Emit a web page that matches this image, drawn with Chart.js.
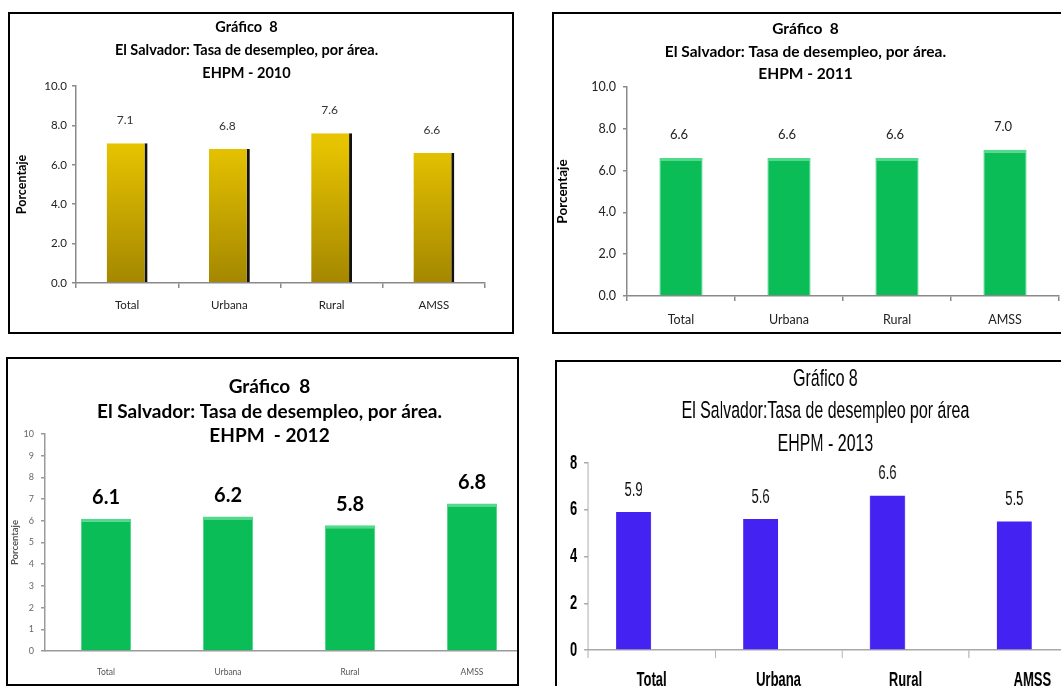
<!DOCTYPE html>
<html>
<head>
<meta charset="utf-8">
<script src="https://cdn.jsdelivr.net/npm/chart.js@4"></script>
<style>
  html, body { margin:0; padding:0; background:#fff; width:1061px; height:686px; overflow:hidden; }
  .wrap { position:absolute; overflow:hidden; background:#fff; }
  .wrap canvas { position:absolute; left:0; top:0; }
  .frame { position:absolute; box-sizing:border-box; border:2px solid #000; pointer-events:none; }
</style>
</head>
<body>
<div class="wrap" style="left:8px;top:12px;width:505px;height:321px;"><canvas id="c1" width="505" height="321"></canvas></div>
<div class="frame" style="left:8px;top:12px;width:506px;height:322px;"></div>

<div class="wrap" style="left:552px;top:13px;width:520px;height:320px;"><canvas id="c2" width="540" height="320"></canvas></div>
<div class="frame" style="left:552px;top:12px;width:530px;height:322px;"></div>

<div class="wrap" style="left:6px;top:357px;width:512px;height:328px;"><canvas id="c3" width="540" height="328"></canvas></div>
<div class="frame" style="left:6px;top:357px;width:513px;height:329px;"></div>

<div class="wrap" style="left:555px;top:361px;width:506px;height:325px;"><canvas id="c4" width="862" height="345" style="transform:scaleX(0.65);transform-origin:0 0;"></canvas></div>
<div class="frame" style="left:555px;top:360px;width:530px;height:340px;"></div>

<script>
// ---------- DATA ----------
const categories = ['Total', 'Urbana', 'Rural', 'AMSS'];
const values2010 = [7.1, 6.8, 7.6, 6.6];
const values2011 = [6.6, 6.6, 6.6, 7.0];
const values2012 = [6.1, 6.2, 5.8, 6.8];
const values2013 = [5.9, 5.6, 6.6, 5.5];

const title2010 = ['Gráfico  8', 'El Salvador: Tasa de desempleo, por área.', 'EHPM - 2010'];
const title2011 = ['Gráfico  8', 'El Salvador: Tasa de desempleo, por área.', 'EHPM - 2011'];
const title2012 = ['Gráfico  8', 'El Salvador: Tasa de desempleo, por área.', 'EHPM  - 2012'];
const title2013 = ['Gráfico 8', 'El Salvador:Tasa de desempleo por área', 'EHPM - 2013'];

const yAxisTitle = 'Porcentaje';
const yMax10 = 10;
const yMax8 = 8;

// ---------- helpers ----------
const valueLabels = {
  id: 'valueLabels',
  afterDatasetsDraw(chart, args, opts) {
    const meta = chart.getDatasetMeta(0);
    const data = chart.data.datasets[0].data;
    const ctx = chart.ctx;
    ctx.save();
    ctx.font = opts.font;
    ctx.fillStyle = opts.color;
    ctx.textAlign = 'center';
    ctx.textBaseline = 'middle';
    meta.data.forEach((bar, i) => {
      ctx.fillText(data[i].toFixed(1), bar.x + (opts.dx || 0), bar.y - opts.dy);
    });
    ctx.restore();
  }
};

function makeChart(id, cfg) {
  const datasets = [{
    data: cfg.values,
    backgroundColor: cfg.bg,
    borderColor: cfg.borderColor || 'rgba(0,0,0,0)',
    borderWidth: cfg.borderWidth || 0,
    borderSkipped: false,
    categoryPercentage: cfg.catPct,
    barPercentage: cfg.barPct
  }];
  if (cfg.extraEmpty) {
    datasets.push({ data: cfg.values.map(() => null), backgroundColor: 'rgba(0,0,0,0)',
      categoryPercentage: cfg.catPct, barPercentage: cfg.barPct });
  }
  return new Chart(document.getElementById(id), {
    type: 'bar',
    data: { labels: categories, datasets },
    plugins: [valueLabels],
    options: {
      responsive: false,
      animation: false,
      devicePixelRatio: 1,
      layout: { padding: { left: 0, top: 0, right: cfg.padRight, bottom: 0 } },
      plugins: {
        legend: { display: false },
        tooltip: { enabled: false },
        title: {
          display: true,
          text: cfg.title,
          color: '#000',
          font: cfg.titleFont,
          padding: cfg.titlePad
        },
        valueLabels: cfg.labels
      },
      scales: {
        x: {
          afterFit(s) { s.height = cfg.xH; },
          border: { color: cfg.axisColor, width: cfg.axisWidth },
          grid: { display: true, drawOnChartArea: false, drawTicks: cfg.xTicks, tickLength: cfg.xTickLen,
                  color: cfg.axisColor, lineWidth: cfg.axisWidth, offset: true },
          ticks: { color: cfg.xColor, font: cfg.xFont, padding: cfg.xPad, maxRotation: 0, autoSkip: false }
        },
        y: {
          min: 0, max: cfg.yMax,
          afterFit(s) { s.width = cfg.yW; },
          border: { color: cfg.axisColor, width: cfg.axisWidth },
          grid: { display: true, drawOnChartArea: false, drawTicks: true, tickLength: cfg.yTickLen || 4,
                  color: cfg.axisColor, lineWidth: cfg.axisWidth },
          ticks: { stepSize: cfg.yStep, color: cfg.yColor, font: cfg.yFont, padding: cfg.yPad,
                   callback: cfg.yFmt },
          title: cfg.yTitle ? { display: true, text: yAxisTitle, color: cfg.yTitle.color,
                   font: cfg.yTitle.font, padding: { top: cfg.yTitle.pad, bottom: 0 } } : { display: false }
        }
      }
    }
  });
}

const calibri = 'Lato, "Open Sans", sans-serif';
const arial = '"Liberation Sans", Arial, sans-serif';

// ---------- 2010 ----------
makeChart('c1', {
  values: values2010,
  bg(ctx) {
    const a = ctx.chart.chartArea;
    if (!a) return '#d6b500';
    const g = ctx.chart.ctx.createLinearGradient(0, a.top, 0, a.bottom);
    g.addColorStop(0, '#f0cc00');
    g.addColorStop(0.3, '#e6c300');
    g.addColorStop(1, '#a48700');
    return g;
  },
  borderColor: '#111',
  borderWidth: { top: 0, left: 0, right: 3, bottom: 0 },
  catPct: 0.8, barPct: 0.5,
  padRight: 28,
  title: title2010,
  titleFont: { family: calibri, size: 14.5, weight: 'bold', lineHeight: '23px' },
  titlePad: { top: 4, bottom: 1 },
  labels: { font: '12px ' + calibri, color: '#333', dy: 23, dx: -2 },
  xH: 50, xTicks: true, xTickLen: 5, xPad: 10,
  xColor: '#222', xFont: { family: calibri, size: 11.5 },
  axisColor: '#8a8a8a', axisWidth: 1.5,
  yMax: yMax10, yStep: 2, yW: 68, yPad: 5,
  yColor: '#222', yFont: { family: calibri, size: 11.5 },
  yFmt: v => v.toFixed(1),
  yTitle: { color: '#000', font: { family: calibri, size: 12.5, weight: 'bold', lineHeight: '15px' }, pad: 6.5 }
});

// ---------- 2011 ----------
makeChart('c2', {
  values: values2011,
  bg: '#0bbd56',
  borderColor: '#52d98c',
  borderWidth: { top: 3, left: 1, right: 1, bottom: 0 },
  catPct: 0.8, barPct: 0.5,
  padRight: 33,
  title: title2011,
  titleFont: { family: calibri, size: 15.5, weight: 'bold', lineHeight: '22.5px' },
  titlePad: { top: 4.75, bottom: 1.75 },
  labels: { font: '13px ' + calibri, color: '#222', dy: 23, dx: -2 },
  xH: 37, xTicks: true, xTickLen: 5, xPad: 11,
  xColor: '#222', xFont: { family: calibri, size: 12.5 },
  axisColor: '#8a8a8a', axisWidth: 1.5,
  yMax: yMax10, yStep: 2, yW: 75, yPad: 7,
  yColor: '#222', yFont: { family: calibri, size: 12.5 },
  yFmt: v => v.toFixed(1),
  yTitle: { color: '#000', font: { family: calibri, size: 13.5, weight: 'bold', lineHeight: '16px' }, pad: 3 }
});

// ---------- 2012 ----------
makeChart('c3', {
  values: values2012,
  bg: '#0bbd56',
  borderColor: '#52d98c',
  borderWidth: { top: 3, left: 1, right: 1, bottom: 0 },
  catPct: 0.82, barPct: 0.5,
  padRight: 13,
  title: title2012,
  titleFont: { family: calibri, size: 19, weight: 'bold', lineHeight: '24.5px' },
  titlePad: { top: 17.75, bottom: -14.25 },
  labels: { font: 'bold 20px ' + calibri, color: '#000', dy: 21, dx: 0 },
  xH: 34, xTicks: false, xTickLen: 0, xPad: 16,
  xColor: '#555', xFont: { family: calibri, size: 8.5 },
  axisColor: '#9a9a9a', axisWidth: 1.5,
  yMax: yMax10, yStep: 1, yW: 39, yPad: 7,
  yColor: '#666', yFont: { family: calibri, size: 9 },
  yFmt: v => String(v),
  yTitle: { color: '#555', font: { family: calibri, size: 9.5, weight: 'bold', lineHeight: '11px' }, pad: 3.5 }
});

// ---------- 2013 (canvas drawn wide, squeezed horizontally by CSS) ----------
makeChart('c4', {
  values: values2013,
  bg: '#4422f2',
  extraEmpty: true,
  catPct: 0.567, barPct: 0.97,
  padRight: 30,
  title: title2013,
  titleFont: { family: arial, size: 24.5, weight: 'normal', lineHeight: '32.5px' },
  titlePad: { top: 1.75, bottom: 2.75 },
  labels: { font: '20px ' + arial, color: '#111', dy: 22, dx: 0 },
  xH: 56, xTicks: true, xTickLen: 8, xPad: 10,
  xColor: '#000', xFont: { family: arial, size: 20, weight: 'bold' },
  axisColor: '#a8a8a8', axisWidth: 1.5,
  yMax: yMax8, yStep: 2, yW: 51, yPad: 11, yTickLen: 6,
  yColor: '#000', yFont: { family: arial, size: 20, weight: 'bold' },
  yFmt: v => String(v),
  yTitle: null
});
</script>
</body>
</html>
